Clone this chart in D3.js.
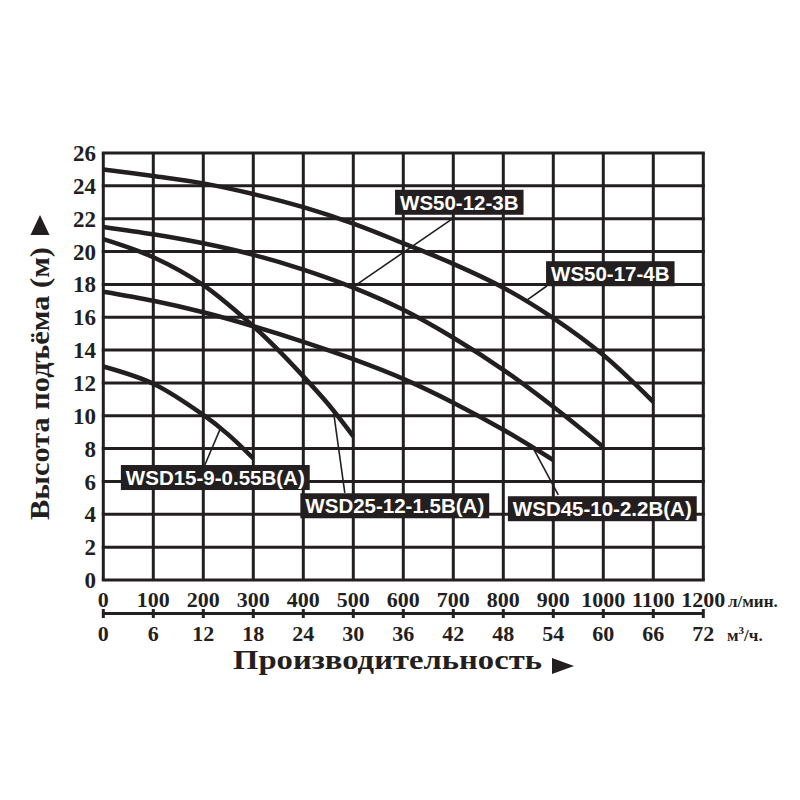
<!DOCTYPE html>
<html><head><meta charset="utf-8">
<script src="https://cdn.jsdelivr.net/npm/d3@7"></script>
<style>
html,body{margin:0;padding:0;background:#fff;}
svg{display:block;}
</style></head>
<body>
<script>
// ---- data ----
const flowTicks = [0,100,200,300,400,500,600,700,800,900,1000,1100,1200];      // л/мин
const m3hTicks  = [0,6,12,18,24,30,36,42,48,54,60,66,72];                       // м³/ч
const headTicks = [0,2,4,6,8,10,12,14,16,18,20,22,24,26];                       // м

const ws50_17_4B_Q = [0,100,200,300,400,500,600,700,800,900,1000,1100];
const ws50_17_4B_H = [25.0,24.6,24.15,23.5,22.7,21.7,20.5,19.25,17.8,15.95,13.7,10.85];

const ws50_12_3B_Q = [0,100,200,300,400,500,600,700,800,900,1000];
const ws50_12_3B_H = [21.5,21.05,20.5,19.8,18.9,17.8,16.45,14.75,12.8,10.55,8.1];

const wsd45_Q = [0,100,200,300,400,500,600,700,800,900];
const wsd45_H = [17.55,17.0,16.3,15.45,14.5,13.45,12.25,10.8,9.15,7.3];

const wsd25_Q = [0,100,200,300,350,400,450,500];
const wsd25_H = [20.75,19.65,17.95,15.45,14.0,12.4,10.7,8.75];

const wsd15_Q = [0,100,200,250,300];
const wsd15_H = [13.0,11.95,10.05,8.85,7.4];

const seriesNames = ["WS50-17-4B","WS50-12-3B","WSD45-10-2.2B(A)","WSD25-12-1.5B(A)","WSD15-9-0.55B(A)"];
// label centre (flow, head) and leader line from label (flow, head) to curve point (flow, head)
const labelCenterQ = [1014, 712, 998, 583, 224];
const labelCenterH = [18.65, 23.0, 4.34, 4.52, 6.24];
const leaderFromQ  = [887, 703, 910, 483, 203];
const leaderFromH  = [17.9, 22.1, 5.18, 5.3, 7.0];
const leaderToQ    = [843, 500, 860, 460, 233];
const leaderToH    = [16.95, 17.85, 8.02, 10.35, 9.14];

// ---- drawing ----
const W = 800, H = 800;
const ink = "#231f20";
const svg = d3.select("body").append("svg").attr("width", W).attr("height", H);

const x = d3.scaleLinear().domain([0,1200]).range([103.3,703.3]);
const y = d3.scaleLinear().domain([0,26]).range([580,153]);
const x2 = d3.scaleLinear().domain([0,72]).range([103.3,703.3]);

const serif = "'Liberation Serif','Times New Roman',serif";
const sans = "'Liberation Sans',Arial,sans-serif";

// grid
const grid = svg.append("g").attr("stroke", ink).attr("stroke-width", 3).attr("fill","none");
grid.selectAll("line.v").data(flowTicks).join("line")
  .attr("x1", d=>x(d)).attr("x2", d=>x(d)).attr("y1", y(0)).attr("y2", y(26));
grid.selectAll("line.h").data(headTicks).join("line")
  .attr("y1", d=>y(d)).attr("y2", d=>y(d)).attr("x1", x(0)-1.5).attr("x2", x(1200)+1.5);

// y tick labels
svg.append("g").selectAll("text").data(headTicks).join("text")
  .attr("x", 96).attr("y", d=>y(d)).attr("dy","0.35em")
  .attr("text-anchor","end").attr("font-family", serif).attr("font-weight","bold")
  .attr("font-size", 23).attr("fill", ink).text(d=>d);

// top x labels (л/мин)
svg.append("g").selectAll("text").data(flowTicks).join("text")
  .attr("x", d=>x(d)).attr("y", 607)
  .attr("text-anchor","middle").attr("font-family", serif).attr("font-weight","bold")
  .attr("font-size", 22).attr("fill", ink).text(d=>d);
svg.append("text").attr("x", 728).attr("y", 607).attr("font-family", serif)
  .attr("font-weight","bold").attr("font-size", 17).attr("fill", ink).text("л/мин.");

// secondary axis (м³/ч)
const ax2 = svg.append("g").attr("stroke", ink).attr("stroke-width", 3);
ax2.append("line").attr("x1", x2(0)).attr("x2", x2(72)).attr("y1", 613.5).attr("y2", 613.5);
ax2.selectAll("line.t").data(m3hTicks).join("line")
  .attr("x1", d=>x2(d)).attr("x2", d=>x2(d)).attr("y1", 609).attr("y2", 618);
svg.append("g").selectAll("text").data(m3hTicks).join("text")
  .attr("x", d=>x2(d)).attr("y", 641)
  .attr("text-anchor","middle").attr("font-family", serif).attr("font-weight","bold")
  .attr("font-size", 22).attr("fill", ink).text(d=>d);
const unit2 = svg.append("text").attr("x", 727).attr("y", 641).attr("font-family", serif)
  .attr("font-weight","bold").attr("font-size", 17).attr("fill", ink);
unit2.append("tspan").text("м");
unit2.append("tspan").attr("dy",-7).attr("font-size",11).text("3");
unit2.append("tspan").attr("dy",7).text("/ч.");

// axis titles
svg.append("text").attr("x", 233).attr("y", 669).attr("font-family", serif)
  .attr("font-weight","bold").attr("font-size", 28).attr("fill", ink)
  .attr("textLength", 309).attr("lengthAdjust","spacingAndGlyphs")
  .text("Производительность");
svg.append("path").attr("d","M552,658 L574,666 L552,674 Z").attr("fill", ink);

svg.append("text").attr("transform","translate(48.5,520) rotate(-90)")
  .attr("font-family", serif).attr("font-weight","bold").attr("font-size", 28).attr("fill", ink)
  .attr("textLength", 273).attr("lengthAdjust","spacingAndGlyphs")
  .text("Высота подъёма (м)");
svg.append("path").attr("d","M40,215 L49.5,235 L30.5,235 Z").attr("fill", ink);

// curves
const allQ = [ws50_17_4B_Q, ws50_12_3B_Q, wsd45_Q, wsd25_Q, wsd15_Q];
const allH = [ws50_17_4B_H, ws50_12_3B_H, wsd45_H, wsd25_H, wsd15_H];
const line = d3.line().x(d=>x(d[0])).y(d=>y(d[1])).curve(d3.curveCatmullRom.alpha(0.5));
svg.append("g").selectAll("path").data(allQ.map((q,i)=>q.map((v,j)=>[v, allH[i][j]]))).join("path")
  .attr("d", line).attr("fill","none").attr("stroke", ink).attr("stroke-width", 4.5)
  .attr("stroke-linecap","butt");

// leader lines
svg.append("g").selectAll("line").data(seriesNames).join("line")
  .attr("x1", (d,i)=>x(leaderFromQ[i])).attr("y1", (d,i)=>y(leaderFromH[i]))
  .attr("x2", (d,i)=>x(leaderToQ[i])).attr("y2", (d,i)=>y(leaderToH[i]))
  .attr("stroke", ink).attr("stroke-width", 1.6);

// labels
const lg = svg.append("g");
seriesNames.forEach((name,i)=>{
  const g = lg.append("g");
  const t = g.append("text").attr("x", x(labelCenterQ[i])).attr("y", y(labelCenterH[i]))
    .attr("dy","0.36em").attr("text-anchor","middle")
    .attr("font-family", sans).attr("font-weight","bold").attr("font-size", 20.5)
    .attr("fill","#fff").text(name);
  const bb = t.node().getBBox();
  g.insert("rect","text").attr("x", bb.x-5).attr("y", y(labelCenterH[i])-12.5)
    .attr("width", bb.width+10).attr("height", 25).attr("fill", ink);
});
</script>
</body></html>
